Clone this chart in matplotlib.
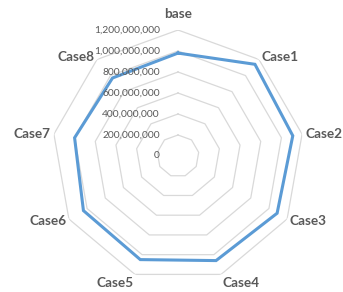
import numpy as np
import matplotlib
matplotlib.use('Agg')
import matplotlib.pyplot as plt

categories = ['base', 'Case1', 'Case2', 'Case3', 'Case4', 'Case5', 'Case6', 'Case7', 'Case8']
values = [980e6, 1140e6, 1110e6, 1090e6, 1060e6, 1050e6, 1040e6, 1000e6, 970e6]
levels = [0, 200e6, 400e6, 600e6, 800e6, 1000e6, 1200e6]
level_labels = ['0', '200,000,000', '400,000,000', '600,000,000', '800,000,000',
                '1,000,000,000', '1,200,000,000']

rmax = levels[-1]
n = len(categories)
angles = np.linspace(0, 2 * np.pi, n, endpoint=False)

fig = plt.figure(figsize=(3.43, 2.92), dpi=100)
ax = fig.add_axes([(178 - 126) / 343, (292 - 156 - 126) / 292, 252 / 343, 252 / 292],
                  projection='polar')
ax.set_theta_zero_location('N')
ax.set_theta_direction(-1)
ax.set_ylim(0, rmax)
ax.grid(False)
ax.spines['polar'].set_visible(False)
ax.set_xticks([])
ax.set_yticks([])
ax.patch.set_visible(False)

grid_col = '#d9d9d9'
closed = np.append(angles, angles[0])
# polygon rings only, Excel-style (no spokes)
for lv in levels[1:]:
    ax.plot(closed, [lv] * (n + 1), color=grid_col, lw=0.9, zorder=1)

# data
ax.plot(closed, values + values[:1], color='#5b9bd5', lw=2.2, zorder=3,
        solid_joinstyle='miter')

# value axis labels
for lv, lab in zip(levels, level_labels):
    ax.annotate(lab, xy=(0, lv), xytext=(-18, 0), textcoords='offset pixels',
                ha='right', va='center', fontsize=7.4, family='Lato',
                color='#595959', zorder=4)

# category labels
for a, cat in zip(angles, categories):
    s, c = np.sin(a), np.cos(a)
    ha = 'left' if s > 0.1 else ('right' if s < -0.1 else 'center')
    va = 'bottom' if c > 0.9 else ('top' if c < -0.9 else 'center')
    pad = 1.08 if c > 0.9 else 1.025
    ax.text(a, rmax * pad, cat, ha=ha, va=va, fontsize=9.8, family='Lato',
            fontweight='bold', color='#595959')

fig.savefig('out.png', dpi=100)
